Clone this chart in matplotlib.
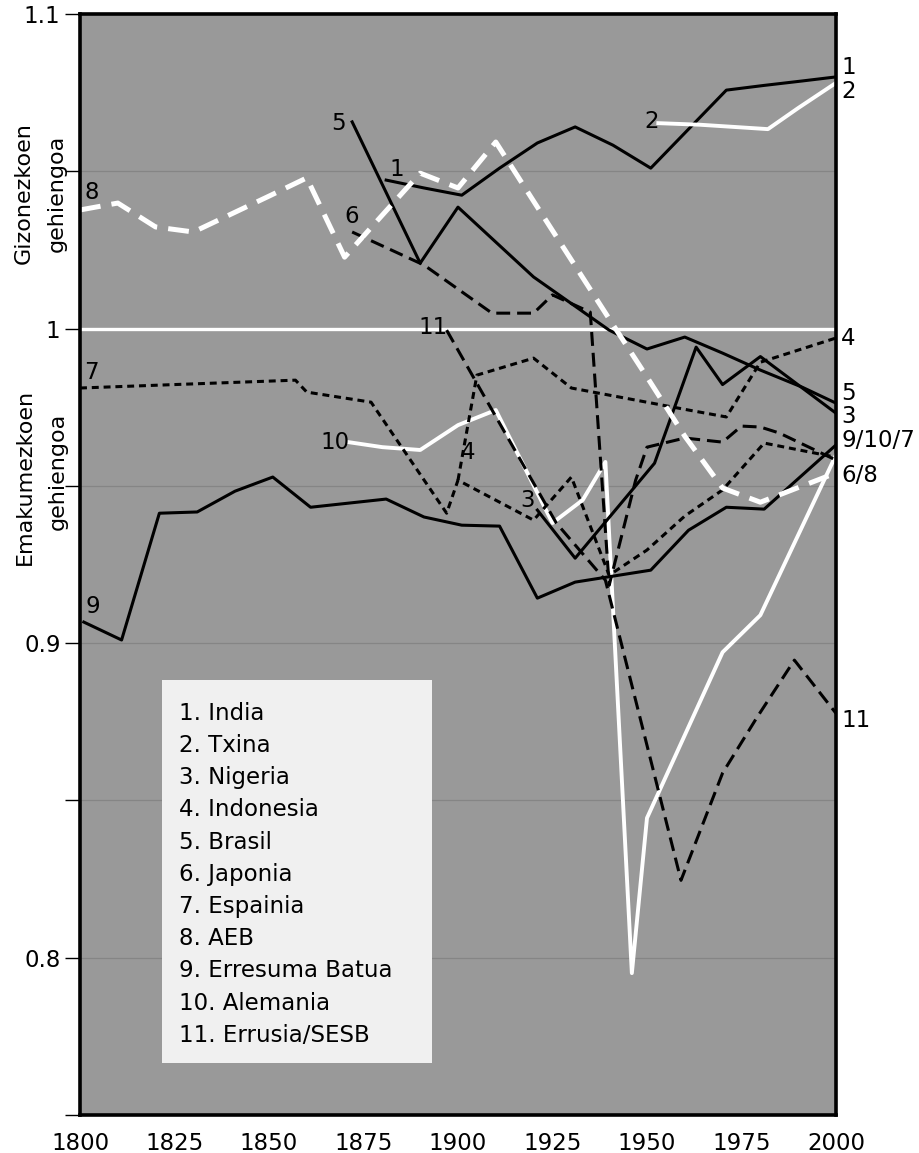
import numpy as np
import matplotlib
matplotlib.use('Agg')
import matplotlib.pyplot as plt
import matplotlib.transforms as mtransforms
from matplotlib.patches import Rectangle

plt.rcParams['lines.scale_dashes'] = False
plt.rcParams['font.family'] = ['DejaVu Sans']

# sex ratio (men per woman) per country
years_india = [1881, 1891, 1901, 1911, 1921, 1931, 1941, 1951, 1961, 1971, 1981, 1991, 2000]
ratio_india = [1.0472, 1.0447, 1.0424, 1.051, 1.059, 1.0641, 1.0583, 1.051, 1.0634, 1.0758, 1.0773, 1.0787, 1.080]

years_txina = [1953, 1964, 1982, 1990, 2000]
ratio_txina = [1.0653, 1.0648, 1.0634, 1.0701, 1.0781]

years_nigeria = [1921, 1931, 1952, 1963, 1970, 1980, 2000]
ratio_nigeria = [0.9423, 0.9270, 0.9572, 0.9941, 0.9822, 0.9911, 0.9731]

years_indonesia = [1900, 1905, 1920, 1930, 1961, 1971, 1980, 2000]
ratio_indonesia = [0.9518, 0.9852, 0.9906, 0.9811, 0.9741, 0.9719, 0.9893, 0.9970]

years_brasil = [1872, 1890, 1900, 1920, 1940, 1950, 1960, 1970, 1980, 1991, 2000]
ratio_brasil = [1.0657, 1.0208, 1.0386, 1.0164, 0.9995, 0.9935, 0.9973, 0.9922, 0.9868, 0.9814, 0.9763]

years_japonia = [1872, 1891, 1909, 1920, 1925, 1935, 1940, 1947, 1950, 1960, 1970, 1975, 1980, 1985, 2000]
ratio_japonia = [1.0307, 1.0202, 1.0049, 1.0049, 1.0107, 1.0052, 0.9184, 0.9518, 0.9623, 0.9652, 0.9639, 0.969, 0.9687, 0.9668, 0.9582]

years_espainia = [1800, 1857, 1860, 1877, 1897, 1900, 1920, 1930, 1940, 1950, 1960, 1970, 1981, 2000]
ratio_espainia = [0.9811, 0.9836, 0.9798, 0.9766, 0.9413, 0.9518, 0.9391, 0.9528, 0.9216, 0.9296, 0.9404, 0.9487, 0.9636, 0.9591]

years_aeb = [1800, 1810, 1820, 1830, 1840, 1850, 1860, 1870, 1880, 1890, 1900, 1910,
             1920, 1930, 1940, 1950, 1960, 1970, 1980, 2000]
ratio_aeb = [1.0377, 1.0399, 1.0323, 1.0307, 1.0364, 1.0421, 1.0479, 1.0227, 1.0361, 1.0494, 1.0447, 1.0593,
             1.0405, 1.0218, 1.0031, 0.9846, 0.9658, 0.9493, 0.9448, 0.9541]

years_eb = [1801, 1811, 1821, 1831, 1841, 1851, 1861, 1871, 1881, 1891, 1901, 1911,
            1921, 1931, 1951, 1961, 1971, 1981, 2000]
ratio_eb = [0.9067, 0.9010, 0.9413, 0.9417, 0.9483, 0.9528, 0.9432, 0.9445, 0.9458, 0.9401, 0.9375, 0.9372,
            0.9143, 0.9194, 0.9232, 0.9359, 0.9432, 0.9426, 0.9630]

years_alemania = [1871, 1880, 1890, 1900, 1910, 1925, 1933, 1939, 1946, 1950, 1970, 1980, 2000]
ratio_alemania = [0.9639, 0.9623, 0.9614, 0.9693, 0.9741, 0.9382, 0.9455, 0.9576, 0.7951, 0.8444, 0.8971, 0.9089, 0.9598]

years_errusia = [1897, 1926, 1939, 1959, 1970, 1979, 1989, 2000]
ratio_errusia = [0.9995, 0.9382, 0.920, 0.8246, 0.8587, 0.8762, 0.8946, 0.8777]

legend_names = ['1. India', '2. Txina', '3. Nigeria', '4. Indonesia', '5. Brasil', '6. Japonia',
                '7. Espainia', '8. AEB', '9. Erresuma Batua', '10. Alemania', '11. Errusia/SESB']

# number labels at the start of each line (year, ratio)
start_labels = [('1', 1883.9, 1.0507), ('2', 1951.1, 1.0657), ('3', 1918.3, 0.9452),
                ('4', 1902.6, 0.9607), ('5', 1868.3, 1.0653), ('6', 1872.0, 1.0355),
                ('7', 1802.9, 0.9859), ('8', 1803.2, 1.0431), ('9', 1803.4, 0.9118),
                ('10', 1867.5, 0.9639), ('11', 1893.4, 1.0002)]
# labels at the right edge
end_labels = [('1', 1.0831), ('2', 1.0755), ('4', 0.9970), ('5', 0.9792), ('3', 0.9722),
              ('9/10/7', 0.9645), ('6/8', 0.9534), ('11', 0.8755)]

solid = dict(color='black', lw=2.2)
long_dash = dict(color='black', lw=2.2, dashes=(10, 5))
short_dash = dict(color='black', lw=2.2, dashes=(5, 3.5))
white_solid = dict(color='white', lw=2.8)
white_dash = dict(color='white', lw=3.6, dashes=(15, 8))

fig = plt.figure(figsize=(9.2, 11.53), dpi=100)
ax = fig.add_axes([0.08696, 0.03296, 0.8217, 0.9549])
ax.set_facecolor('#999999')
ax.set_xlim(1800, 2000)
ax.set_ylim(0.75, 1.1)

for v in [0.8, 0.85, 0.9, 0.95, 1.05]:
    ax.axhline(v, color='#858585', lw=0.9, zorder=1)
ax.axhline(1.0, color='white', lw=2.4, zorder=2)

# white Germany line under the black ones
ax.plot(years_alemania, ratio_alemania, zorder=3, **white_solid)

ax.plot(years_india, ratio_india, zorder=4, **solid)
ax.plot(years_brasil, ratio_brasil, zorder=4, **solid)
ax.plot(years_nigeria, ratio_nigeria, zorder=4, **solid)
ax.plot(years_eb, ratio_eb, zorder=4, **solid)
ax.plot(years_japonia, ratio_japonia, zorder=4, **long_dash)
ax.plot(years_errusia, ratio_errusia, zorder=4, **long_dash)
ax.plot(years_indonesia, ratio_indonesia, zorder=4, **short_dash)
ax.plot(years_espainia, ratio_espainia, zorder=4, **short_dash)

ax.plot(years_txina, ratio_txina, zorder=5, **white_solid)
ax.plot(years_aeb, ratio_aeb, zorder=5, **white_dash)

for txt, x, y in start_labels:
    ax.text(x, y, txt, fontsize=16.5, ha='center', va='center', zorder=6)
for txt, y in end_labels:
    ax.text(2001.4, y, txt, fontsize=16.5, ha='left', va='center', clip_on=False)

# legend box
ax.add_patch(Rectangle((1821.7, 0.7665), 71.4, 0.1217, facecolor='#f0f0f0',
                       edgecolor='none', zorder=7))
for i, name in enumerate(legend_names):
    ax.text(1826.3, 0.8777 - i * 0.01024, name, fontsize=16.5, ha='left', va='center', zorder=8)

ax.set_yticks([0.75, 0.8, 0.85, 0.9, 0.95, 1.0, 1.05, 1.1])
ax.set_yticklabels(['', '0.8', '', '0.9', '', '1', '', '1.1'])
ax.set_xticks([1800, 1825, 1850, 1875, 1900, 1925, 1950, 1975, 2000])
ax.tick_params(axis='y', direction='out', length=11, width=1, labelsize=16.5, pad=3)
ax.tick_params(axis='x', length=0, labelsize=16.5, pad=12)
for sp in ax.spines.values():
    sp.set_linewidth(2.6)
    sp.set_zorder(9)

trans = mtransforms.blended_transform_factory(fig.transFigure, ax.transData)
ax.text(24 / 920, 1.0431, 'Gizonezkoen', transform=trans, rotation=90, fontsize=16,
        ha='center', va='center')
ax.text(57 / 920, 1.0431, 'gehiengoa', transform=trans, rotation=90, fontsize=16,
        ha='center', va='center')
ax.text(25 / 920, 0.9528, 'Emakumezkoen', transform=trans, rotation=90, fontsize=16,
        ha='center', va='center')
ax.text(58 / 920, 0.9547, 'gehiengoa', transform=trans, rotation=90, fontsize=16,
        ha='center', va='center')

fig.savefig('out.png', dpi=100)
